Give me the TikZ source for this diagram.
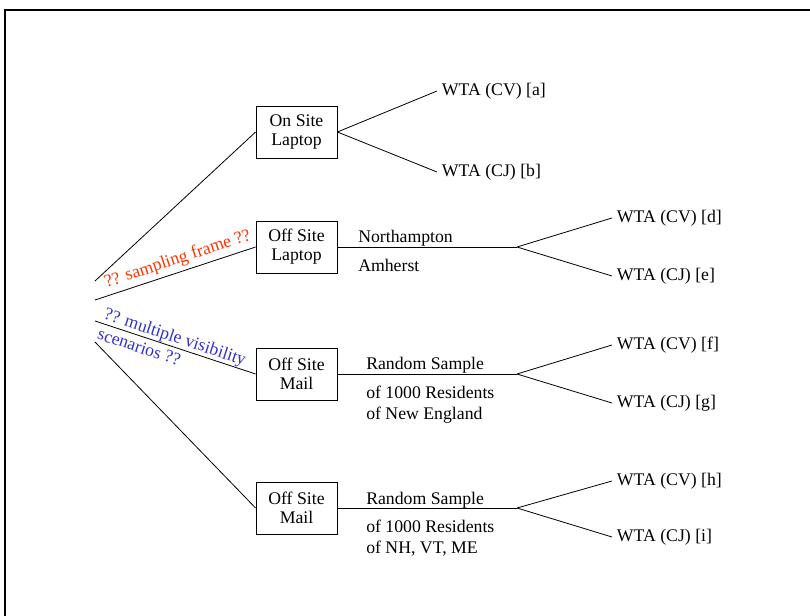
\documentclass[tikz,border=0pt]{standalone}
\usepackage{fontspec}
\setmainfont{Liberation Serif}
\definecolor{frame_red}{RGB}{255,51,0}
\definecolor{frame_blue}{RGB}{51,51,204}

\begin{document}
\begin{tikzpicture}[x=0.75pt, y=-0.75pt, font={\fontsize{13.3}{15.75}\selectfont}]
    \tikzstyle{box_site} = [draw=black, line width=0.6pt, rectangle, align=center, minimum width=60.75pt, minimum height=39pt, inner sep=2pt, font={\fontsize{13.3}{14.2}\selectfont}]
    \tikzstyle{text_leaf} = [draw=none, anchor=west, inner sep=3.5pt]
    \tikzstyle{text_above} = [draw=none, anchor=base west, inner sep=0pt]
    \tikzstyle{text_below} = [draw=none, anchor=north west, align=left, inner sep=0pt]
    \tikzstyle{line_black} = [black, line width=0.6pt]

    \useasboundingbox (0,0) rectangle (810,616);
    \draw[black, line width=1.5pt] (5,10) rectangle (830,640);

    % ---------------------------------------

    \coordinate (r1) at (95,281);
    \coordinate (r2) at (95,300);
    \coordinate (r3) at (95,321);
    \coordinate (r4) at (95,342);

    \node[box_site] (nOn) at (296.5,132) {On Site\\Laptop};
    \node[box_site] (nLap) at (296.5,247) {Off Site\\Laptop};
    \node[box_site] (nMail) at (296.5,374) {Off Site\\Mail};
    \node[box_site] (nMailB) at (296.5,508) {Off Site\\Mail};

    \draw[line_black] (r1) -- (nOn.west);
    \draw[line_black] (r2) -- node[sloped, pos=0.54, anchor=south, inner sep=3pt, text=frame_red] (lFrame) {?? sampling frame ??} (nLap.west);
    \draw[line_black] (r3) -- node[sloped, pos=0.48, align=left, inner sep=0pt, text=frame_blue] (lVis) {?? multiple visibility\\scenarios ??} (nMail.west);
    \draw[line_black] (r4) -- (nMailB.west);

    % ---------------------------------------

    \node[text_leaf] (na) at (437,91) {WTA (CV) [a]};
    \node[text_leaf] (nb) at (437,172) {WTA (CJ) [b]};

    \draw[line_black] (nOn.east) -- (na.west);
    \draw[line_black] (nOn.east) -- (nb.west);

    % ---------------------------------------

    \coordinate (jLap) at (517,247);
    \node[text_leaf] (nd) at (612,218) {WTA (CV) [d]};
    \node[text_leaf] (ne) at (612,276) {WTA (CJ) [e]};

    \draw[line_black] (nLap.east) -- (jLap);
    \draw[line_black] (jLap) -- (nd.west);
    \draw[line_black] (jLap) -- (ne.west);

    \node[text_above] (tNorth) at (358,243) {Northampton};
    \node[text_below] (tAmh) at (358,259) {Amherst};

    % ---------------------------------------

    \coordinate (jMail) at (517,374);
    \node[text_leaf] (nf) at (612,345) {WTA (CV) [f]};
    \node[text_leaf] (ng) at (612,403) {WTA (CJ) [g]};

    \draw[line_black] (nMail.east) -- (jMail);
    \draw[line_black] (jMail) -- (nf.west);
    \draw[line_black] (jMail) -- (ng.west);

    \node[text_above] (tRand) at (366,370) {Random Sample};
    \node[text_below] (tNE) at (366,386) {of 1000 Residents\\of New England};

    % ---------------------------------------

    \coordinate (jMailB) at (517,508);
    \node[text_leaf] (nh) at (612,481) {WTA (CV) [h]};
    \node[text_leaf] (ni) at (612,537) {WTA (CJ) [i]};

    \draw[line_black] (nMailB.east) -- (jMailB);
    \draw[line_black] (jMailB) -- (nh.west);
    \draw[line_black] (jMailB) -- (ni.west);

    \node[text_above] (tRandB) at (366,504) {Random Sample};
    \node[text_below] (tNVM) at (366,520) {of 1000 Residents\\of NH, VT, ME};

\end{tikzpicture}
\end{document}
